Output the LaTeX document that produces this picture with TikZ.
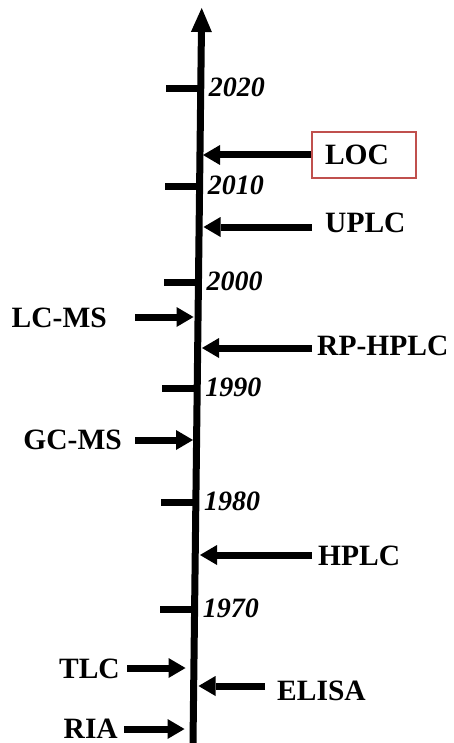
\documentclass[tikz,border=0pt]{standalone}
\usepackage{fontspec}
\setmainfont{Liberation Serif}
\usetikzlibrary{arrows.meta}
\definecolor{boxred}{HTML}{C0504D}
\begin{document}
\begin{tikzpicture}[x=1pt,y=-1pt,
  axisline/.style={line width=7pt, -{Triangle[width=21pt,length=24pt,line width=0pt]}},
  tickmark/.style={line width=7pt},
  evt/.style={line width=7pt, -{Triangle[width=20pt,length=17pt,line width=0pt]}},
  method/.style={font=\bfseries\fontsize{29.5}{30}\selectfont, inner sep=0pt},
  year/.style={font=\bfseries\itshape\fontsize{28}{30}\selectfont, inner sep=0pt, anchor=base west},
]
\path[use as bounding box] (0,0) rectangle (453,743);

% time axis
\coordinate (axtop) at (201.7,8);
\coordinate (axbot) at (193,743);
\draw[axisline] (axbot) -- (axtop);

% decade ticks (right ends sit on the axis)
\coordinate (y2020) at (200.7,89);
\coordinate (y2010) at (199.6,187);
\coordinate (y2000) at (198.5,282);
\coordinate (y1990) at (197.2,388);
\coordinate (y1980) at (195.9,502);
\coordinate (y1970) at (194.6,609);
\foreach \yr in {2020,2010,2000,1990,1980,1970}{
  \draw[tickmark] (y\yr) -- ++(-35,0);
  \node[year] (l\yr) at ([xshift=8pt,yshift=-8pt]y\yr) {\yr};
}

% methods introduced after the axis (right side)
\node[method, draw=boxred, line width=1.8pt, minimum width=104pt, minimum height=46pt,
      text width=78pt, inner xsep=13pt, align=left] (loc) at (364,155) {LOC};
\node[method, anchor=base west] (uplc)   at (325,232) {UPLC};
\node[method, anchor=base west] (rphplc) at (317,355) {RP-HPLC};
\node[method, anchor=base west] (hplc)   at (318,565) {HPLC};
\node[method, anchor=base west] (elisa)  at (277,700) {ELISA};

% methods on the left side
\node[method, anchor=base east] (lcms) at (107,327) {LC-MS};
\node[method, anchor=base east] (gcms) at (122,449) {GC-MS};
\node[method, anchor=base east] (tlc)  at (120,678) {TLC};
\node[method, anchor=base east] (ria)  at (118,738) {RIA};

% arrow ends
\coordinate (uplc-s)   at (312,227);
\coordinate (rphplc-s) at (312,348);
\coordinate (hplc-s)   at (312,555);
\coordinate (elisa-s)  at (265,686);
\coordinate (lcms-s)   at (135,317);
\coordinate (gcms-s)   at (135,440);
\coordinate (tlc-s)    at (127,668);
\coordinate (ria-s)    at (124,729);

\coordinate (loc-e)    at (203,155);
\coordinate (uplc-e)   at (203.5,227);
\coordinate (rphplc-e) at (202,348);
\coordinate (hplc-e)   at (200,555);
\coordinate (elisa-e)  at (198.5,686);
\coordinate (lcms-e)   at (193.5,317);
\coordinate (gcms-e)   at (193,440);
\coordinate (tlc-e)    at (185.5,668);
\coordinate (ria-e)    at (184.5,729);

\draw[evt] (loc.west) -- (loc-e);
\draw[evt] (uplc-s)   -- (uplc-e);
\draw[evt] (rphplc-s) -- (rphplc-e);
\draw[evt] (hplc-s)   -- (hplc-e);
\draw[evt] (elisa-s)  -- (elisa-e);
\draw[evt] (lcms-s)   -- (lcms-e);
\draw[evt] (gcms-s)   -- (gcms-e);
\draw[evt] (tlc-s)    -- (tlc-e);
\draw[evt] (ria-s)    -- (ria-e);
\end{tikzpicture}
\end{document}
